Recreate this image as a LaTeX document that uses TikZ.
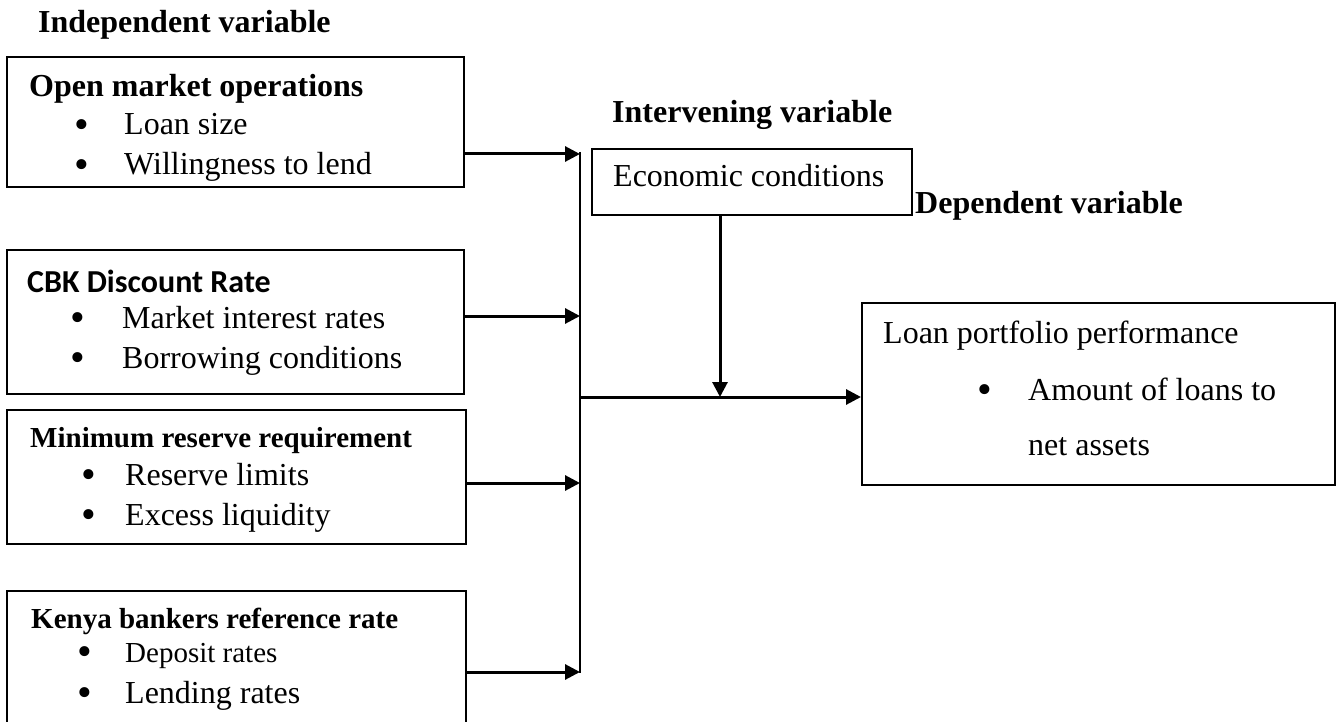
\documentclass[tikz,border=0pt]{standalone}
\usepackage{fontspec}
\setmainfont{Liberation Serif}
\newfontfamily\cbkfont{Carlito}
\usetikzlibrary{arrows.meta}

\newcommand{\bpoint}[2][48pt]{\makebox[#1][l]{\hspace*{-2pt}\raisebox{-3.5pt}[0pt][0pt]{\fontsize{42}{42}\selectfont\textbullet}}#2}

\tikzset{
  box/.style={draw, line width=2pt, inner sep=0pt},
  txt/.style={anchor=base west, inner sep=0pt, font=\fontsize{32}{38}\selectfont},
  smalltxt/.style={anchor=base west, inner sep=0pt, font=\fontsize{29}{35}\selectfont},
  head/.style={anchor=base west, inner sep=0pt, font=\fontsize{32}{38}\selectfont\bfseries},
  smallhead/.style={anchor=base west, inner sep=0pt, font=\fontsize{29}{35}\selectfont\bfseries},
  arr/.style={line width=3pt, -{Triangle[length=15pt, width=15pt]}},
}

\begin{document}
\begin{tikzpicture}[x=1pt, y=-1pt]
                \clip (0,0) rectangle (1343,722);

                % Titles
                \node[head] (indep) at (38,33) {Independent variable};
                \node[head] (interv) at (612,123) {Intervening variable};
                \node[head] (dep) at (915,213) {Dependent variable};

                % Open market operations
                \node[box, minimum width=457pt, minimum height=130pt] (omo) at (235.5,122) {};
                \node[head] (omoh) at (29,97) {Open market operations};
                \node[txt] (omo1) at (76,135) {\bpoint{Loan size}};
                \node[txt] (omo2) at (76,175) {\bpoint{Willingness to lend}};

                % CBK Discount Rate
                \node[box, minimum width=457pt, minimum height=144pt] (cbk) at (235.5,322) {};
                \node[head, font=\fontsize{32}{38}\selectfont\cbkfont\bfseries] (cbkh) at (27,292) {CBK Discount Rate};
                \node[txt] (cbk1) at (72,328) {\bpoint[50pt]{Market interest rates}};
                \node[txt] (cbk2) at (72,368) {\bpoint[50pt]{Borrowing conditions}};

                % Minimum reserve requirement
                \node[box, minimum width=459pt, minimum height=134pt] (mrr) at (236.5,477) {};
                \node[smallhead] (mrrh) at (30,447) {Minimum reserve requirement};
                \node[txt] (mrr1) at (83,485) {\bpoint[42pt]{Reserve limits}};
                \node[txt] (mrr2) at (83,525) {\bpoint[42pt]{Excess liquidity}};

                % Kenya bankers reference rate
                \node[box, minimum width=459pt, minimum height=169pt] (kbrr) at (236.5,675.5) {};
                \node[smallhead] (kbrrh) at (31,628) {Kenya bankers reference rate};
                \node[smalltxt] (kbrr1) at (79,662) {\bpoint[46pt]{Deposit rates}};
                \node[txt] (kbrr2) at (79,703) {\bpoint[46pt]{Lending rates}};

                % Economic conditions
                \node[box, minimum width=320pt, minimum height=66pt] (econ) at (752,182) {};
                \node[txt] (econt) at (613,187) {Economic conditions};

                % Loan portfolio performance
                \node[box, minimum width=473pt, minimum height=182pt] (loan) at (1098.5,394) {};
                \node[txt] (loant) at (883,343) {Loan portfolio performance};
                \node[txt] (loan1) at (979,400) {\bpoint[49pt]{Amount of loans to}};
                \node[txt] (loan2) at (1028,455) {net assets};

                % Connectors
                \coordinate (bustop) at (580,152);
                \coordinate (busbot) at (580,673);
                \coordinate (a1) at (580,154);
                \coordinate (a2) at (580,316);
                \coordinate (a3) at (580,483);
                \coordinate (a4) at (580,672);
                \coordinate (join) at (580,397);
                \coordinate (drop) at (720,397);

                \draw[line width=2pt] (bustop) -- (busbot);
                \draw[arr] (omo.east |- a1) -- (a1);
                \draw[arr] (cbk.east |- a2) -- (a2);
                \draw[arr] (mrr.east |- a3) -- (a3);
                \draw[arr] (kbrr.east |- a4) -- (a4);
                \draw[arr] (join) -- (join -| loan.west);
                \draw[arr] (drop |- econ.south) -- (drop);
            \end{tikzpicture}
\end{document}
